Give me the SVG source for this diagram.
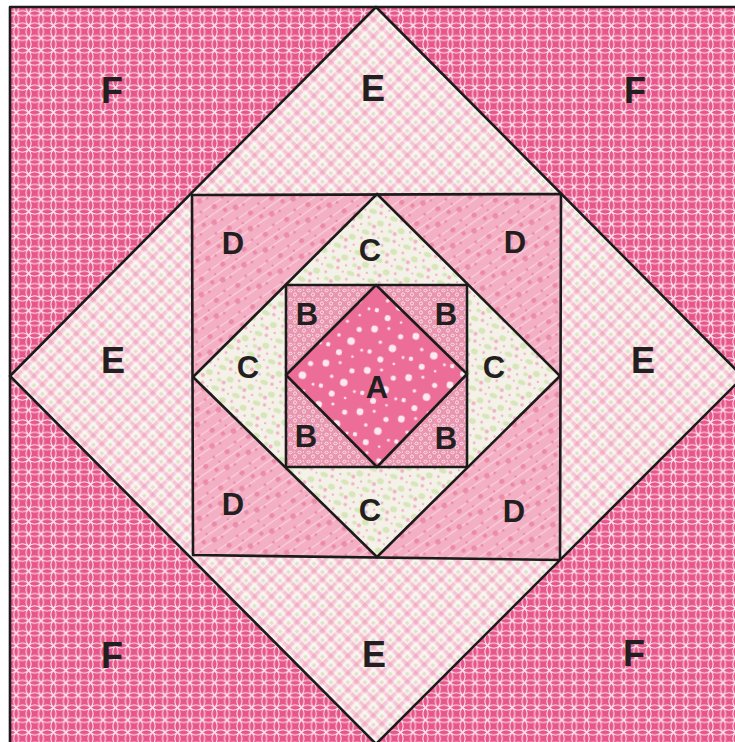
<svg xmlns="http://www.w3.org/2000/svg" width="735" height="742" viewBox="0 0 735 742">
<defs>
<pattern id="pF" patternUnits="userSpaceOnUse" x="10" y="7" width="12.4" height="12.4">
<rect width="12.4" height="12.4" fill="#e6568a"/>
<g fill="none" stroke="#fde4ed" stroke-width="1.05">
<circle r="8.77"/><circle cx="12.4" r="8.77"/><circle cy="12.4" r="8.77"/><circle cx="12.4" cy="12.4" r="8.77"/>
</g>
</pattern>
<pattern id="pE" patternUnits="userSpaceOnUse" width="12" height="12" patternTransform="rotate(45)">
<rect width="12" height="12" fill="#faecee"/>
<rect width="12" height="3.5" fill="#ec8eab" opacity="0.42"/>
<rect width="3.5" height="12" fill="#ec8eab" opacity="0.42"/>
<rect x="6.5" y="6.5" width="3.5" height="3.5" fill="#d3e3b8" opacity="0.8"/>
<rect x="5.5" y="0" width="1" height="12" fill="#ffffff" opacity="0.7"/>
<rect x="0" y="5.5" width="12" height="1" fill="#ffffff" opacity="0.7"/>
</pattern>
<pattern id="pD" patternUnits="userSpaceOnUse" width="26" height="26" patternTransform="rotate(-35)">
<rect width="26" height="26" fill="#f3afc3"/>
<rect y="3" width="26" height="1.2" fill="#fbd8e2" opacity="0.8"/>
<rect y="11" width="26" height="1.2" fill="#fbd8e2" opacity="0.8"/>
<rect y="19" width="26" height="1.2" fill="#fbd8e2" opacity="0.8"/>
<g fill="#e97c9d" opacity="0.75">
<circle cx="5" cy="6" r="2.6"/><circle cx="17" cy="3" r="1.6"/><circle cx="12" cy="15" r="2.2"/>
<circle cx="22" cy="19" r="2.8"/><circle cx="4" cy="21" r="1.5"/><circle cx="19" cy="10" r="1.2"/>
</g>
</pattern>
<pattern id="pC" patternUnits="userSpaceOnUse" width="22" height="22" patternTransform="rotate(20)">
<rect width="22" height="22" fill="#f4f2e8"/>
<g fill="#d4e3b2" opacity="0.85">
<ellipse cx="5" cy="5" rx="4" ry="2.5"/><ellipse cx="16" cy="14" rx="3.5" ry="3"/><ellipse cx="6" cy="18" rx="2.5" ry="2"/>
</g>
<g fill="#f0a1b9" opacity="0.8">
<circle cx="13" cy="4" r="1.8"/><circle cx="3" cy="12" r="1.4"/><circle cx="19" cy="6" r="1.1"/><circle cx="11" cy="19" r="2"/><circle cx="20" cy="21" r="1.2"/>
</g>
</pattern>
<pattern id="pB" patternUnits="userSpaceOnUse" width="9" height="9">
<rect width="9" height="9" fill="#e895b0"/>
<g fill="none" stroke="#fbe3ea" stroke-width="0.9">
<ellipse cx="2.5" cy="2.5" rx="1.7" ry="1.3"/><ellipse cx="7" cy="6.5" rx="1.5" ry="1.7"/>
</g>
<circle cx="6.5" cy="2" r="0.7" fill="#fbe3ea"/>
</pattern>
<pattern id="pA" patternUnits="userSpaceOnUse" width="42" height="42" patternTransform="rotate(10)">
<rect width="42" height="42" fill="#ec6e98"/>
<g fill="#fff5f8" opacity="0.9">
<circle cx="6" cy="7" r="3.4"/><circle cx="20" cy="4" r="1.6"/><circle cx="33" cy="10" r="2.6"/>
<circle cx="14" cy="19" r="1.8"/><circle cx="27" cy="23" r="3.8"/><circle cx="39" cy="30" r="1.5"/>
<circle cx="5" cy="30" r="2.2"/><circle cx="17" cy="36" r="3"/><circle cx="31" cy="38" r="1.3"/>
</g>
</pattern>
<style>
.seam{stroke:#1c1a1b;stroke-width:2.6;stroke-linejoin:round}
.lbl{font-family:"Liberation Sans",Arial,sans-serif;font-weight:700;fill:#231f20;text-anchor:middle}
.big{font-size:36px}
.sm{font-size:31px}
</style>
</defs>
<rect width="735" height="742" fill="#ffffff"/>
<g id="pieceF">
<rect x="10" y="7" width="725" height="735" fill="url(#pF)"/>
</g>
<g id="pieceE">
<polygon points="376,7 743,377 376,744 10,376" fill="url(#pE)" class="seam"/>
</g>
<g id="pieceD">
<polygon points="192,195 561,194 560,560 193,555" fill="url(#pD)" class="seam"/>
</g>
<g id="pieceC">
<polygon points="377,194 560,376 377,557 193,377" fill="url(#pC)" class="seam"/>
</g>
<g id="pieceB">
<polygon points="286,285 467,285 467,467 286,467" fill="url(#pB)" class="seam"/>
</g>
<g id="pieceA">
<polygon points="376,285 467,374 377,467 286,375" fill="url(#pA)" class="seam"/>
</g>
<g id="border">
<polyline points="10,742 10,7 735,7" fill="none" class="seam" stroke-width="3"/>
</g>
<g id="labels">
<text class="lbl big" x="112" y="103">F</text>
<text class="lbl big" x="373" y="101">E</text>
<text class="lbl big" x="635" y="103">F</text>
<text class="lbl sm" x="233" y="254">D</text>
<text class="lbl sm" x="370" y="261">C</text>
<text class="lbl sm" x="515" y="253">D</text>
<text class="lbl sm" x="307" y="325">B</text>
<text class="lbl sm" x="446" y="325">B</text>
<text class="lbl big" x="113" y="373">E</text>
<text class="lbl sm" x="248" y="378">C</text>
<text class="lbl sm" x="377" y="398">A</text>
<text class="lbl sm" x="494" y="378">C</text>
<text class="lbl big" x="643" y="373">E</text>
<text class="lbl sm" x="306" y="447">B</text>
<text class="lbl sm" x="446" y="449">B</text>
<text class="lbl sm" x="233" y="515">D</text>
<text class="lbl sm" x="370" y="521">C</text>
<text class="lbl sm" x="514" y="522">D</text>
<text class="lbl big" x="112" y="668">F</text>
<text class="lbl big" x="374" y="667">E</text>
<text class="lbl big" x="634" y="666">F</text>
</g>
</svg>
